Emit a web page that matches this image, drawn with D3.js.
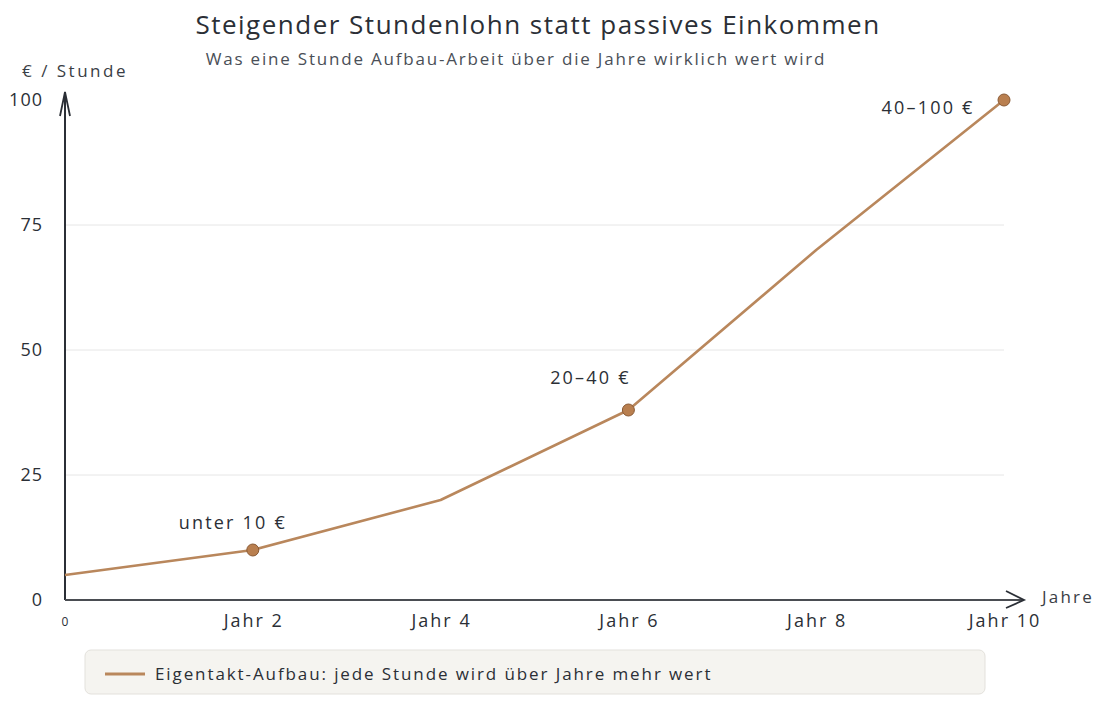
<!DOCTYPE html>
<html><head><meta charset="utf-8">
<script src="https://cdn.jsdelivr.net/npm/d3@7"></script>
<style>
body{margin:0;background:#fff;}
text{font-family:"Open Sans","Noto Sans",sans-serif;}
</style></head>
<body><svg id="c" width="1104" height="705"></svg>
<script>
const years = [0, 2, 4, 6, 8, 10];
const wages = [5, 10, 20, 38, 70, 100];
const markedYears = [2, 6, 10];
const markLabels = ["unter 10 €", "20–40 €", "40–100 €"];
const xTickValues = [2, 4, 6, 8, 10];
const xTickLabels = ["Jahr 2", "Jahr 4", "Jahr 6", "Jahr 8", "Jahr 10"];
const yTickValues = [0, 25, 50, 75, 100];
const seriesName = "Eigentakt-Aufbau: jede Stunde wird über Jahre mehr wert";

const svg = d3.select("#c");
const x = d3.scaleLinear().domain([0, 10]).range([65, 1004]);
const y = d3.scaleLinear().domain([0, 100]).range([600, 100]);
const ink = "#2b2f36", col = "#b9875c";

svg.append("text").attr("x", 538).attr("y", 34).attr("text-anchor", "middle")
  .attr("font-size", 26).attr("letter-spacing", 1.5).attr("fill", ink).text("Steigender Stundenlohn statt passives Einkommen");
svg.append("text").attr("x", 516).attr("y", 65).attr("text-anchor", "middle")
  .attr("font-size", 17).attr("letter-spacing", 1.8).attr("fill", "#4a4f57").text("Was eine Stunde Aufbau-Arbeit über die Jahre wirklich wert wird");

// grid
svg.append("g").selectAll("line").data(yTickValues.filter(v => v > 0 && v < 100)).join("line")
  .attr("x1", x(0)).attr("x2", x(10)).attr("y1", d => y(d)).attr("y2", d => y(d))
  .attr("stroke", "#e6e6e6").attr("stroke-width", 1);

// axes
svg.append("line").attr("x1", x(0)).attr("x2", x(0)).attr("y1", y(0)).attr("y2", 92).attr("stroke", ink).attr("stroke-width", 2);
svg.append("path").attr("d", `M${x(0)-5},${116} L${x(0)},${92} L${x(0)+5},${116}`).attr("fill", "none").attr("stroke", ink).attr("stroke-width", 1.8);
svg.append("line").attr("x1", x(0)).attr("x2", 1024).attr("y1", y(0)).attr("y2", y(0)).attr("stroke", "#4a4d52").attr("stroke-width", 2);
svg.append("path").attr("d", `M1006,591 L1024,600 L1006,608`).attr("fill", "none").attr("stroke", ink).attr("stroke-width", 1.8);

svg.append("text").attr("x", 22).attr("y", 77).attr("font-size", 17).attr("letter-spacing", 2.5).attr("fill", "#3a3e45").text("€ / Stunde");
svg.append("text").attr("x", 1042).attr("y", 603).attr("font-size", 17).attr("letter-spacing", 2.2).attr("fill", "#3a3e45").text("Jahre");

svg.append("g").selectAll("text").data(yTickValues).join("text")
  .attr("x", 43).attr("y", d => y(d) + 6).attr("text-anchor", "end")
  .attr("font-size", 18).attr("letter-spacing", 1).attr("fill", ink).text(d => d);
svg.append("text").attr("x", x(0)).attr("y", 626).attr("text-anchor", "middle").attr("font-size", 12).attr("fill", ink).text("0");
svg.append("g").selectAll("text").data(xTickValues).join("text")
  .attr("x", d => x(d) + 1).attr("y", 627).attr("text-anchor", "middle")
  .attr("font-size", 18).attr("letter-spacing", 2).attr("fill", ink).text((d, i) => xTickLabels[i]);

// line
const line = d3.line().x((d, i) => x(years[i])).y(d => y(d));
svg.append("path").datum(wages).attr("d", line).attr("fill", "none")
  .attr("stroke", col).attr("stroke-width", 2.6).attr("stroke-linejoin", "round");

const marks = markedYears.map((yr, i) => ({yr, v: wages[years.indexOf(yr)], label: markLabels[i]}));
const lblDx = {2: -20, 6: -38, 10: -76};
const lblDy = {2: -21, 6: -26, 10: 14};
svg.append("g").selectAll("circle").data(marks).join("circle")
  .attr("cx", d => x(d.yr)).attr("cy", d => y(d.v)).attr("r", 6)
  .attr("fill", "#b97f4f").attr("stroke", "#8a5a35").attr("stroke-width", 1);
svg.append("g").selectAll("text").data(marks).join("text")
  .attr("x", d => x(d.yr) + lblDx[d.yr]).attr("y", d => y(d.v) + lblDy[d.yr])
  .attr("text-anchor", "middle").attr("font-size", 18).attr("letter-spacing", 2.2).attr("fill", ink)
  .text(d => d.label);

// legend
svg.append("rect").attr("x", 85).attr("y", 650).attr("width", 900).attr("height", 44).attr("rx", 6)
  .attr("fill", "#f5f4f0").attr("stroke", "#e3e1dc");
svg.append("line").attr("x1", 105).attr("x2", 145).attr("y1", 674).attr("y2", 674).attr("stroke", col).attr("stroke-width", 3);
svg.append("text").attr("x", 155).attr("y", 680).attr("font-size", 17).attr("letter-spacing", 1.9).attr("fill", ink).text(seriesName);
</script></body></html>
